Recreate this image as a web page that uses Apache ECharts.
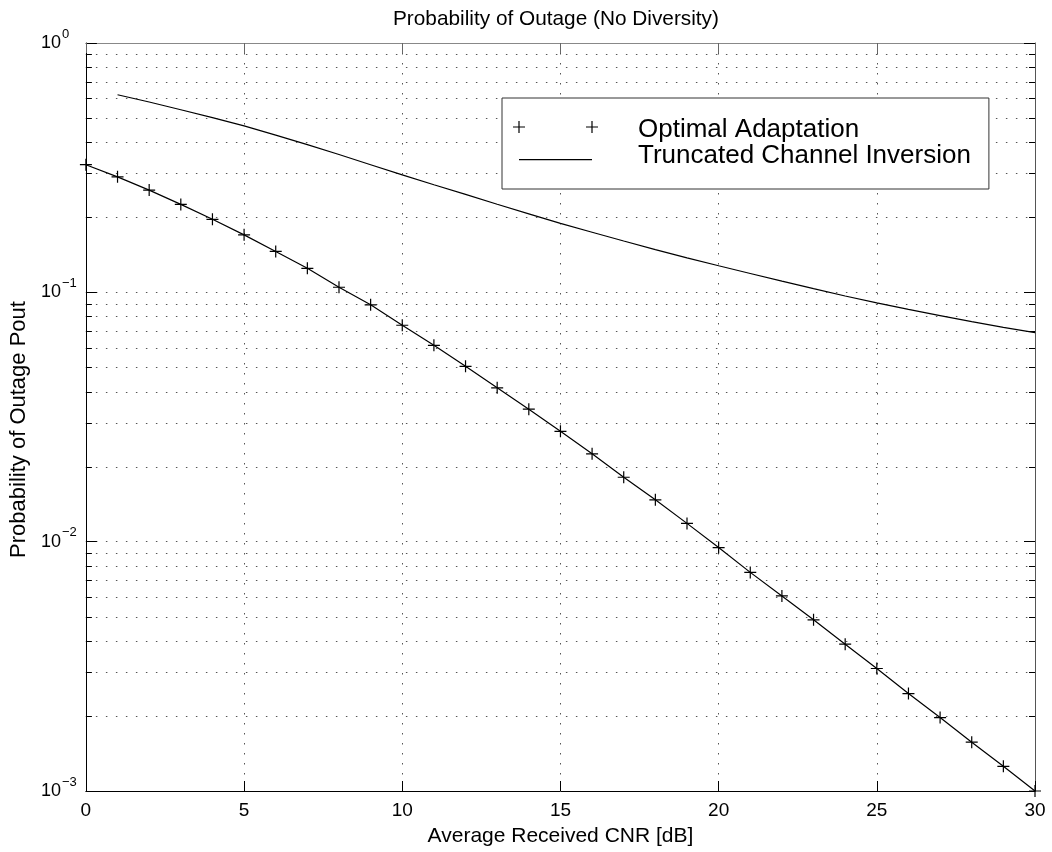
<!DOCTYPE html>
<html>
<head>
<meta charset="utf-8">
<title>Probability of Outage (No Diversity)</title>
<script src="https://cdn.jsdelivr.net/npm/echarts@6/dist/echarts.min.js"></script>
<style>
  html, body { margin: 0; padding: 0; background: #fff; }
  #chart { width: 1052px; height: 852px; }
</style>
</head>
<body>
<div id="chart"></div>
<script>
// Average received CNR in dB for the optimal adaptation curve
const cnrDb = [0, 1, 2, 3, 4, 5, 6, 7, 8, 9, 10, 11, 12, 13, 14, 15,
  16, 17, 18, 19, 20, 21, 22, 23, 24, 25, 26, 27, 28, 29, 30];
// Outage probability, optimal rate/power adaptation
const optimalPout = [0.325, 0.2905, 0.257, 0.2253, 0.1963, 0.170, 0.1459, 0.1248,
  0.1048, 0.0891, 0.0738, 0.0613, 0.0505, 0.0414, 0.0340, 0.0277, 0.0225, 0.01813,
  0.01472, 0.01184, 0.00947, 0.00753, 0.00606, 0.00486, 0.00388, 0.00310, 0.00246,
  0.00197, 0.00157, 0.001256, 0.001];
// CNR values for the truncated channel inversion curve (starts at 1 dB)
const truncCnrDb = [1, 2, 3, 4, 5, 6, 7, 8, 9, 10, 11, 12, 13, 14, 15,
  16, 17, 18, 19, 20, 21, 22, 23, 24, 25, 26, 27, 28, 29, 30];
// Outage probability, truncated channel inversion
const truncatedPout = [0.620, 0.580, 0.540, 0.502, 0.465, 0.427, 0.391, 0.357, 0.325,
  0.296, 0.270, 0.247, 0.2256, 0.2064, 0.189, 0.1741, 0.1606, 0.1484, 0.1375, 0.1278,
  0.1190, 0.1109, 0.1035, 0.0967, 0.0907, 0.0855, 0.0807, 0.0763, 0.0724, 0.0689];

// Axis ranges and ticks
const xRange = [0, 30];
const xTickStep = 5;
const yRange = [0.001, 1];
const minorTickValues = [
  0.002, 0.003, 0.004, 0.005, 0.006, 0.007, 0.008, 0.009,
  0.02, 0.03, 0.04, 0.05, 0.06, 0.07, 0.08, 0.09,
  0.2, 0.3, 0.4, 0.5, 0.6, 0.7, 0.8, 0.9
];

const FONT = '"Liberation Sans", Arial, Helvetica, sans-serif';

const plusSymbol = 'path://M0,5.4h12v1.2h-12z M5.4,0h1.2v12h-1.2z';
// legend icons, 85x20 boxes (tiny corner anchors keep the box size)
const anchors = 'M0,0h0.01v0.01h-0.01z M84.99,19.99h0.01v0.01h-0.01z ';
const legendPlusIcon = 'path://' + anchors +
  'M0,6.4h12v1.2h-12z M5.4,1h1.2v12h-1.2z M73,6.4h12v1.2h-12z M78.4,1h1.2v12h-1.2z';
const legendLineIcon = 'path://' + anchors + 'M6,13.1h73v1.2h-73z';

function pairs(xs, ys) {
  return xs.map((x, i) => [x, ys[i]]);
}

function decadeLabel(value) {
  const e = Math.round(Math.log10(value));
  const exp = e < 0 ? '\u2212' + (-e) : String(e);
  return '{b|10}{s|' + exp + '}';
}

const chart = echarts.init(document.getElementById('chart'));

const dotted = { color: '#555', width: 1, type: [1.5, 8.5] };

chart.setOption({
  animation: false,
  backgroundColor: '#fff',
  title: {
    text: 'Probability of Outage (No Diversity)',
    left: 393,
    top: 9,
    padding: 0,
    textStyle: { fontFamily: FONT, fontSize: 20.8, fontWeight: 'normal', color: '#000' }
  },
  grid: { left: 82, top: 43, right: 17, bottom: 58, containLabel: false },
  legend: {
    left: 502,
    top: 98,
    orient: 'vertical',
    itemWidth: 85,
    itemHeight: 20,
    itemGap: 0,
    padding: [19, 18, 20, 11],
    backgroundColor: '#fff',
    borderColor: '#333',
    borderWidth: 1,
    borderRadius: 0,
    selectedMode: false,
    symbolKeepAspect: true,
    itemStyle: { color: '#000', borderWidth: 0 },
    textStyle: { fontFamily: FONT, fontSize: 26, color: '#000', lineHeight: 20, padding: [0, 0, 0, 35] },
    data: [
      { name: 'Optimal Adaptation', icon: legendPlusIcon },
      { name: 'Truncated Channel Inversion', icon: legendLineIcon }
    ],
    z: 10
  },
  xAxis: [
    {
      type: 'value',
      position: 'bottom',
      min: xRange[0],
      max: xRange[1],
      interval: xTickStep,
      name: 'Average Received CNR [dB]',
      nameLocation: 'middle',
      nameGap: 35,
      nameTextStyle: { fontFamily: FONT, fontSize: 21, color: '#000' },
      axisLine: { show: true, onZero: false, lineStyle: { color: '#000', width: 1 } },
      axisTick: { show: true, inside: true, length: 10, lineStyle: { color: '#000' } },
      axisLabel: { fontFamily: FONT, fontSize: 19, color: '#000', margin: 10 },
      splitLine: { show: true, lineStyle: dotted }
    },
    {
      type: 'value',
      position: 'top',
      min: xRange[0],
      max: xRange[1],
      interval: xTickStep,
      axisLine: { show: true, onZero: false, lineStyle: { color: '#888', width: 1 } },
      axisTick: { show: true, inside: true, length: 10, lineStyle: { color: '#666' } },
      axisLabel: { show: false },
      splitLine: { show: false }
    }
  ],
  yAxis: [
    {
      type: 'log',
      logBase: 10,
      position: 'left',
      min: yRange[0],
      max: yRange[1],
      interval: 1,
      name: 'Probability of Outage Pout',
      nameLocation: 'middle',
      nameGap: 51,
      nameTextStyle: { fontFamily: FONT, fontSize: 22, color: '#000', padding: [0, 25, 0, 0] },
      axisLine: { show: true, onZero: false, lineStyle: { color: '#000', width: 1 } },
      axisTick: { show: true, inside: true, length: 11, lineStyle: { color: '#000' } },
      axisLabel: {
        show: true,
        align: 'left',
        margin: 45,
        formatter: decadeLabel,
        rich: {
          b: { fontFamily: FONT, fontSize: 18, color: '#000', lineHeight: 18, padding: [6.5, 0, 6.5, 0] },
          s: { fontFamily: FONT, fontSize: 13, color: '#000', lineHeight: 13, padding: [0, 0, 18, 1] }
        }
      },
      splitLine: { show: true, lineStyle: dotted }
    },
    {
      type: 'log',
      logBase: 10,
      position: 'right',
      min: yRange[0],
      max: yRange[1],
      interval: 1,
      axisLine: { show: true, onZero: false, lineStyle: { color: '#555', width: 1 } },
      axisTick: { show: true, inside: true, length: 11, lineStyle: { color: '#000' } },
      axisLabel: { show: false },
      splitLine: { show: false }
    }
  ],
  series: [
    {
      // log-axis minor grid lines and inward minor ticks on both sides
      type: 'custom',
      name: 'minor',
      xAxisIndex: 0,
      yAxisIndex: 0,
      silent: true,
      z: 1,
      data: minorTickValues.map(v => [xRange[0], v]),
      encode: { x: 0, y: 1 },
      renderItem: function (params, api) {
        const v = api.value(1);
        const a = api.coord([xRange[0], v]);
        const b = api.coord([xRange[1], v]);
        const y = Math.round(a[1]) + 0.5;
        return {
          type: 'group',
          children: [
            { type: 'line', shape: { x1: a[0], y1: y, x2: b[0], y2: y },
              style: { stroke: '#555', lineWidth: 1, lineDash: [1.5, 8.5] } },
            { type: 'line', shape: { x1: a[0], y1: y, x2: a[0] + 6, y2: y },
              style: { stroke: '#000', lineWidth: 1 } },
            { type: 'line', shape: { x1: b[0] - 6, y1: y, x2: b[0], y2: y },
              style: { stroke: '#000', lineWidth: 1 } }
          ]
        };
      }
    },
    {
      type: 'line',
      name: 'Optimal Adaptation',
      xAxisIndex: 0,
      yAxisIndex: 0,
      data: pairs(cnrDb, optimalPout),
      symbol: plusSymbol,
      symbolSize: 12,
      showAllSymbol: true,
      color: '#000',
      itemStyle: { color: '#000', borderWidth: 0 },
      lineStyle: { color: '#000', width: 1.2 },
      emphasis: { disabled: true },
      z: 3
    },
    {
      type: 'line',
      name: 'Truncated Channel Inversion',
      xAxisIndex: 0,
      yAxisIndex: 0,
      data: pairs(truncCnrDb, truncatedPout),
      showSymbol: false,
      symbol: 'none',
      color: '#000',
      itemStyle: { color: '#000' },
      lineStyle: { color: '#000', width: 1.2 },
      emphasis: { disabled: true },
      z: 3
    }
  ]
});
</script>
</body>
</html>
